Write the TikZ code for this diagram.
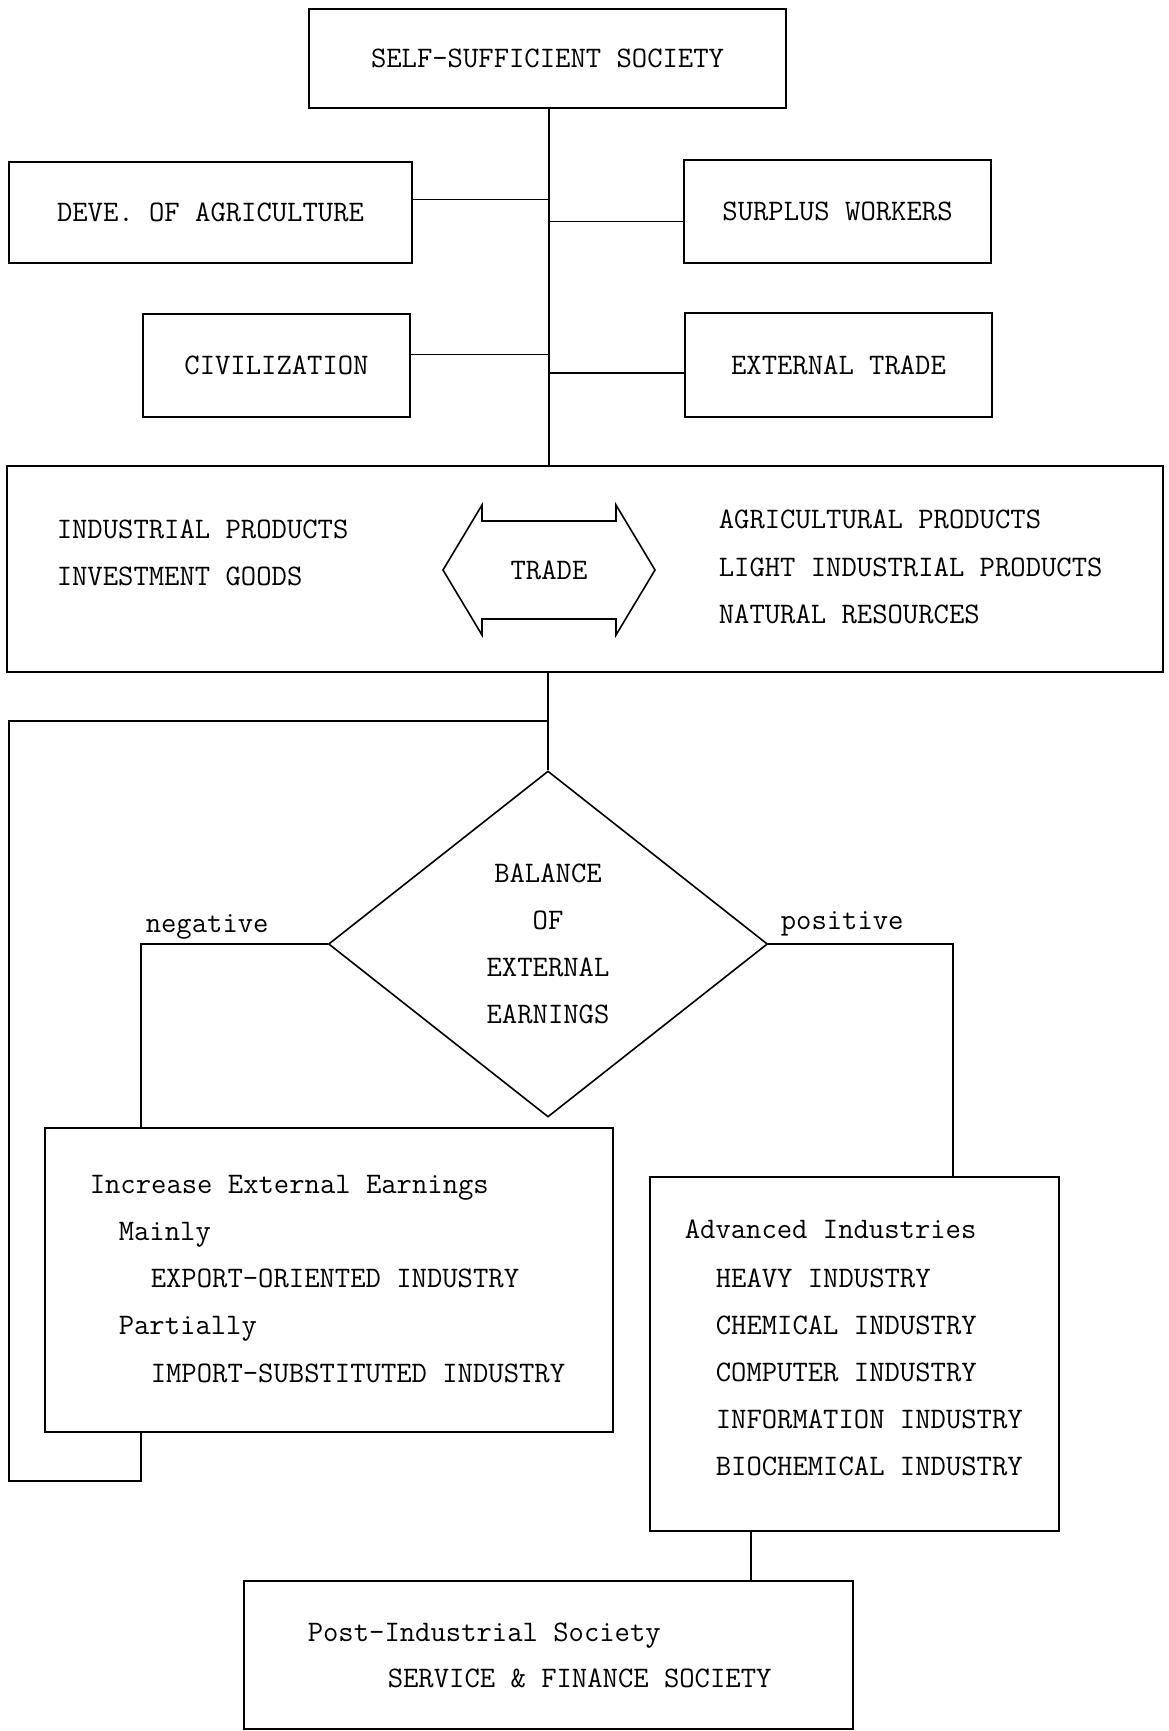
\documentclass[tikz,border=0pt]{standalone}
\usepackage{fontspec}
\usetikzlibrary{shapes.geometric}
\begin{document}
\begin{tikzpicture}[x=1pt,y=-1pt, line width=1.6pt,
  every node/.style={font=\ttfamily\fontsize{29.8}{34}\selectfont, inner sep=0pt},
  box/.style={draw, rectangle},
  txt/.style={anchor=base west}]
\useasboundingbox[fill=white] (0,0) rectangle (1168,1731);

% top boxes
\node[box, minimum width=477pt, minimum height=99pt] (top) at (547.5,58.5) {SELF-SUFFICIENT SOCIETY};
\node[box, minimum width=403pt, minimum height=101pt] (deve) at (210.5,212.5) {DEVE. OF AGRICULTURE};
\node[box, minimum width=307pt, minimum height=103pt] (surplus) at (837.5,211.5) {SURPLUS WORKERS};
\node[box, minimum width=267pt, minimum height=103pt] (civ) at (276.5,365.5) {CIVILIZATION};
\node[box, minimum width=307pt, minimum height=104pt] (ext) at (838.5,365) {EXTERNAL TRADE};

% trade box
\node[box, minimum width=1156pt, minimum height=206pt] (tradebox) at (585,569) {};
\node[txt] (ip) at (56,538) {INDUSTRIAL PRODUCTS};
\node[txt] (ig) at (56,585) {INVESTMENT GOODS};
\node[txt] (ap) at (718,528) {AGRICULTURAL PRODUCTS};
\node[txt] (lip) at (718,576) {LIGHT INDUSTRIAL PRODUCTS};
\node[txt] (nr) at (718,623) {NATURAL RESOURCES};
\node (trade) at (549,570) {TRADE};
\draw[shift={(trade.center)}] (-106,0) -- (-67,-65) -- (-67,-49) -- (67,-49) -- (67,-65)
  -- (106,0) -- (67,65) -- (67,49) -- (-67,49) -- (-67,65) -- cycle;

% diamond
\node[draw, diamond, minimum width=439pt, minimum height=346pt, align=center,
  font=\ttfamily\fontsize{29.8}{47}\selectfont] (dia) at (548,944)
  {BALANCE\\OF\\EXTERNAL\\EARNINGS};
\node[txt] (neg) at (145,932) {negative};
\node[txt] (pos) at (780,929) {positive};

% lower boxes
\node[box, minimum width=568pt, minimum height=304pt] (incr) at (329,1280) {};
\node[txt] (i1) at (89,1193) {Increase External Earnings};
\node[txt] (i2) at (118,1240) {Mainly};
\node[txt] (i3) at (150,1287) {EXPORT-ORIENTED INDUSTRY};
\node[txt] (i4) at (118,1334) {Partially};
\node[txt] (i5) at (150,1382) {IMPORT-SUBSTITUTED INDUSTRY};

\node[box, minimum width=409pt, minimum height=354pt] (adv) at (854.5,1354) {};
\node[txt] (a1) at (684,1238) {Advanced Industries};
\node[txt] (a2) at (715,1287) {HEAVY INDUSTRY};
\node[txt] (a3) at (715,1334) {CHEMICAL INDUSTRY};
\node[txt] (a4) at (715,1381) {COMPUTER INDUSTRY};
\node[txt] (a5) at (715,1428) {INFORMATION INDUSTRY};
\node[txt] (a6) at (715,1475) {BIOCHEMICAL INDUSTRY};

\node[box, minimum width=609pt, minimum height=148pt] (post) at (548.5,1655) {};
\node[txt] (p1) at (307,1641) {Post-Industrial Society};
\node[txt] (p2) at (387,1687) {SERVICE \& FINANCE SOCIETY};

% helper coordinates
\coordinate (spine) at (549,0);
\coordinate (fb) at (549,721);
\coordinate (fbcorner) at (9,1481);
\coordinate (negx) at (141,942);
\coordinate (posx) at (953,939);
\coordinate (postx) at (751,1600);

% connectors
\draw (top.south -| spine) -- (tradebox.north -| spine);
\draw ([yshift=13pt]deve.east) -- ([yshift=13pt]deve.east -| spine);
\draw ([yshift=-10pt]surplus.west) -- ([yshift=-10pt]surplus.west -| spine);
\draw ([yshift=11pt]civ.east) -- ([yshift=11pt]civ.east -| spine);
\draw ([yshift=-8pt]ext.west) -- ([yshift=-8pt]ext.west -| spine);
\draw (tradebox.south -| dia.north) -- (dia.north);
\draw (dia.west) -| (incr.north -| negx);
\draw (dia.east) -| (adv.north -| posx);
\draw (incr.south -| negx) |- (fbcorner) |- (fb);
\draw (adv.south -| postx) -- (post.north -| postx);
\end{tikzpicture}
\end{document}
